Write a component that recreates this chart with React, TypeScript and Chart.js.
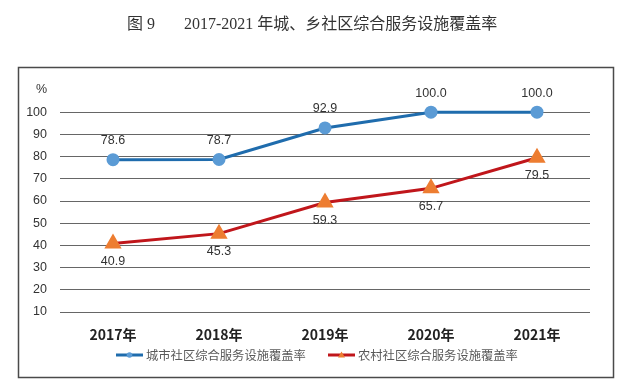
import React, { useEffect, useRef } from "react";
import { Chart, registerables } from "chart.js";

Chart.register(...registerables);

const categories = ["2017年", "2018年", "2019年", "2020年", "2021年"];
const urbanName = "城市社区综合服务设施覆盖率";
const ruralName = "农村社区综合服务设施覆盖率";
const urbanValues = [78.6, 78.7, 92.9, 100.0, 100.0];
const ruralValues = [40.9, 45.3, 59.3, 65.7, 79.5];
const titleLeft = "图 9";
const titleRight = "2017-2021 年城、乡社区综合服务设施覆盖率";
const unitLabel = "%";

const BLUE_LINE = "#1f6cad";
const BLUE_MARK = "#5b9bd5";
const RED_LINE = "#c0161b";
const RED_MARK = "#ed7d31";

const decorPlugin = {
  id: "decor",
  afterDraw(chart: any) {
    const ctx = chart.ctx;
    ctx.save();
    // border
    ctx.strokeStyle = "#4a4a4a";
    ctx.lineWidth = 1.5;
    ctx.strokeRect(18.5, 67.5, 595, 310);
    // title
    ctx.fillStyle = "#333333";
    ctx.font = '16px "Liberation Serif", "Noto Sans CJK SC", serif';
    ctx.textBaseline = "middle";
    ctx.textAlign = "left";
    ctx.fillText(titleLeft, 127, 25);
    ctx.fillText(titleRight, 184, 25);
    // data labels
    ctx.font = '12.5px "Liberation Sans", sans-serif';
    ctx.fillStyle = "#333333";
    ctx.textAlign = "center";
    chart.data.datasets.forEach((ds: any, di: number) => {
      const meta = chart.getDatasetMeta(di);
      meta.data.forEach((pt: any, i: number) => {
        const v = ds.data[i];
        const dy = di === 0 ? -19 : 18;
        ctx.fillText(v.toFixed(1), pt.x, pt.y + dy);
      });
    });
    // legend
    const ly = 355;
    const items = [
      { x: 116, line: BLUE_LINE, mark: BLUE_MARK, tri: false, text: urbanName },
      { x: 328, line: RED_LINE, mark: RED_MARK, tri: true, text: ruralName },
    ];
    items.forEach((it) => {
      ctx.strokeStyle = it.line;
      ctx.lineWidth = 3;
      ctx.beginPath();
      ctx.moveTo(it.x, ly);
      ctx.lineTo(it.x + 27, ly);
      ctx.stroke();
      ctx.fillStyle = it.mark;
      ctx.beginPath();
      if (it.tri) {
        ctx.moveTo(it.x + 13.5, ly - 3.5);
        ctx.lineTo(it.x + 17, ly + 2.5);
        ctx.lineTo(it.x + 10, ly + 2.5);
        ctx.closePath();
      } else {
        ctx.arc(it.x + 13.5, ly, 2.8, 0, Math.PI * 2);
      }
      ctx.fill();
      ctx.fillStyle = "#595959";
      ctx.font = '12.3px "Noto Sans CJK SC", sans-serif';
      ctx.textAlign = "left";
      ctx.fillText(it.text, it.x + 30, ly);
    });
    ctx.restore();
  },
};

export default function App() {
  const ref = useRef<HTMLCanvasElement | null>(null);
  useEffect(() => {
    document.body.style.margin = "0";
    const canvas = ref.current;
    if (!canvas) return;
    const chart = new Chart(canvas, {
      type: "line",
      data: {
        labels: categories,
        datasets: [
          {
            label: urbanName,
            data: urbanValues,
            borderColor: BLUE_LINE,
            backgroundColor: BLUE_MARK,
            pointBackgroundColor: BLUE_MARK,
            pointBorderColor: BLUE_MARK,
            pointStyle: "circle",
            pointRadius: 5,
            borderWidth: 3,
            tension: 0,
          },
          {
            label: ruralName,
            data: ruralValues,
            borderColor: RED_LINE,
            backgroundColor: RED_MARK,
            pointBackgroundColor: RED_MARK,
            pointBorderColor: RED_MARK,
            pointStyle: "triangle",
            pointRadius: 7,
            borderWidth: 3,
            tension: 0,
          },
        ],
      },
      options: {
        responsive: false,
        animation: false,
        devicePixelRatio: 1,
        layout: { padding: { top: 90, right: 39, left: 0, bottom: 0 } },
        plugins: {
          legend: { display: false },
          title: { display: false },
          tooltip: { enabled: false },
        },
        scales: {
          x: {
            offset: true,
            grid: { display: false, drawTicks: false },
            border: { display: false },
            ticks: {
              padding: 14,
              color: "#222222",
              font: { family: '"Noto Sans CJK SC", sans-serif', size: 14, weight: "bold" },
            },
            afterFit(scale: any) {
              scale.height = 77;
            },
          },
          y: {
            min: 10,
            max: 110,
            ticks: {
              stepSize: 10,
              padding: 13,
              color: "#333333",
              font: { family: '"Liberation Sans", sans-serif', size: 12.5 },
              callback: (v: any) => (v === 110 ? unitLabel : String(v)),
            },
            grid: {
              drawTicks: false,
              color: (c: any) => (c.tick && c.tick.value === 110 ? "rgba(0,0,0,0)" : "#666666"),
              lineWidth: 1,
            },
            border: { display: false },
            afterFit(scale: any) {
              scale.width = 60;
            },
          },
        },
      },
      plugins: [decorPlugin],
    });
    return () => chart.destroy();
  }, []);
  return (
    <canvas
      ref={ref}
      width={629}
      height={389}
      style={{ display: "block", width: 629, height: 389 }}
    />
  );
}
